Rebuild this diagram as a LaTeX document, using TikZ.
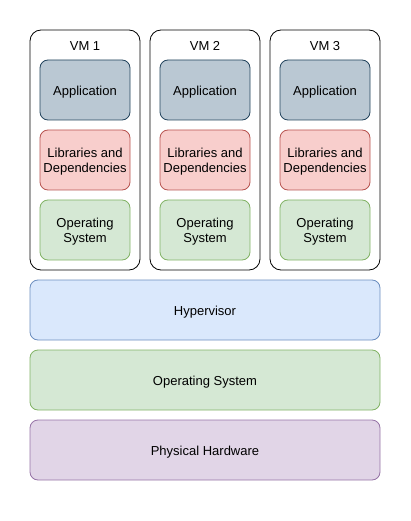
\documentclass[tikz,border=0pt]{standalone}
\usepackage{fontspec}
\setmainfont{Liberation Sans}
\definecolor{appfill}{HTML}{BAC8D3}\definecolor{appdraw}{HTML}{23445D}
\definecolor{libfill}{HTML}{F8CECC}\definecolor{libdraw}{HTML}{B85450}
\definecolor{osfill}{HTML}{D5E8D4}\definecolor{osdraw}{HTML}{82B366}
\definecolor{hvfill}{HTML}{DAE8FC}\definecolor{hvdraw}{HTML}{6C8EBF}
\definecolor{hwfill}{HTML}{E1D5E7}\definecolor{hwdraw}{HTML}{9673A6}
\begin{document}
\begin{tikzpicture}[x=1pt,y=-1pt,
  every node/.style={font=\fontsize{13}{15}\selectfont, align=center, inner sep=0pt},
  txt/.style={yshift=-2pt},
  vmbox/.style={draw=black, fill=white, rounded corners=11pt, line width=0.8pt},
  inbox/.style={rounded corners=8pt, line width=0.8pt, minimum width=90pt, minimum height=60pt},
  app/.style={inbox, draw=appdraw, fill=appfill},
  lib/.style={inbox, draw=libdraw, fill=libfill},
  osb/.style={inbox, draw=osdraw, fill=osfill},
  wide/.style={rounded corners=8pt, line width=0.8pt, minimum width=350pt, minimum height=60pt}]
\useasboundingbox (0,0) rectangle (411,521);
\foreach \i/\x in {1/30,2/150,3/270}{
  \draw[vmbox] (\x,30) rectangle (\x+110,270);
  \node[yshift=-1pt] (vm\i) at (\x+55,45) {VM \i};
  \node[app] (app\i) at (\x+55,90) {};
  \node[txt] (app\i t) at (app\i.center) {Application};
  \node[lib] (lib\i) at (\x+55,160) {};
  \node[txt] (lib\i t) at (lib\i.center) {Libraries and\\Dependencies};
  \node[osb] (os\i) at (\x+55,230) {};
  \node[txt] (os\i t) at (os\i.center) {Operating\\System};
}
\node[wide, draw=hvdraw, fill=hvfill] (hv) at (205,310) {};
\node[txt] (hvt) at (hv.center) {Hypervisor};
\node[wide, draw=osdraw, fill=osfill] (hos) at (205,380) {};
\node[txt] (host) at (hos.center) {Operating System};
\node[wide, draw=hwdraw, fill=hwfill] (hw) at (205,450) {};
\node[txt] (hwt) at (hw.center) {Physical Hardware};
\end{tikzpicture}
\end{document}
